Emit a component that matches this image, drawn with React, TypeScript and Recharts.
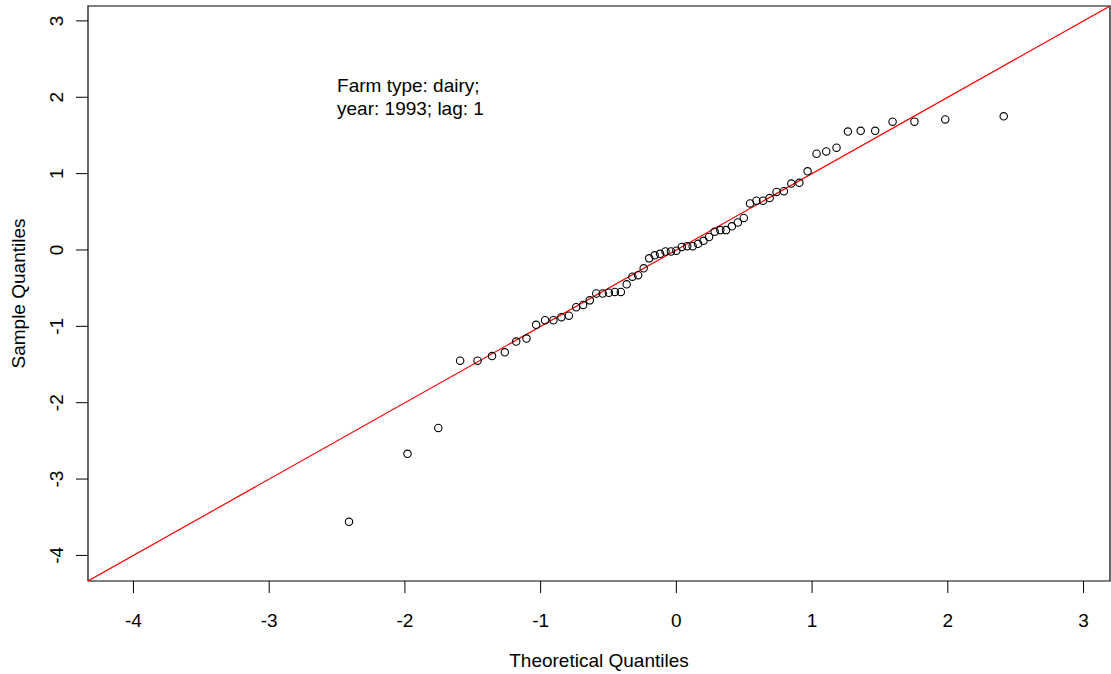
import {
  ScatterChart,
  Scatter,
  XAxis,
  YAxis,
  ReferenceLine,
  ReferenceArea,
  ReferenceDot,
} from "recharts";

// Normal scores for n = 63 (ppoints), ascending
const theoretical = [
  -2.412, -1.981, -1.754, -1.593, -1.465, -1.358, -1.264, -1.18, -1.104, -1.033,
  -0.967, -0.906, -0.847, -0.792, -0.738, -0.687, -0.638, -0.59, -0.543, -0.497,
  -0.453, -0.409, -0.366, -0.324, -0.282, -0.241, -0.2, -0.16, -0.12, -0.08,
  -0.04, 0, 0.04, 0.08, 0.12, 0.16, 0.2, 0.241, 0.282, 0.324,
  0.366, 0.409, 0.453, 0.497, 0.543, 0.59, 0.638, 0.687, 0.738, 0.792,
  0.847, 0.906, 0.967, 1.033, 1.104, 1.18, 1.264, 1.358, 1.465, 1.593,
  1.754, 1.981, 2.412,
];

// Sorted standardised residuals
const sample = [
  -3.56, -2.67, -2.33, -1.45, -1.45, -1.39, -1.34, -1.2, -1.16, -0.98,
  -0.92, -0.92, -0.88, -0.86, -0.75, -0.72, -0.66, -0.57, -0.57, -0.56,
  -0.55, -0.55, -0.45, -0.35, -0.33, -0.24, -0.11, -0.07, -0.05, -0.02,
  -0.02, -0.01, 0.04, 0.05, 0.05, 0.08, 0.12, 0.17, 0.24, 0.26,
  0.26, 0.31, 0.36, 0.42, 0.61, 0.645, 0.645, 0.68, 0.76, 0.77,
  0.87, 0.88, 1.03, 1.26, 1.29, 1.34, 1.55, 1.56, 1.56, 1.68,
  1.68, 1.71, 1.75,
];

const axisTicks = [-4, -3, -2, -1, 0, 1, 2, 3];
const axisRange: [number, number] = [-4.335, 3.195];

// qqline through the quartiles
const qqIntercept = 0;
const qqSlope = 1;

const annotationLines = ["Farm type: dairy;", "year: 1993; lag: 1"];

const data = theoretical.map((t, i) => ({ x: t, y: sample[i] }));

const FONT = "'Liberation Sans', Arial, Helvetica, sans-serif";
const FS = 19;

const XTick = (props: any) => {
  const { x, y, payload } = props;
  return (
    <text x={x} y={y + 25} textAnchor="middle" dominantBaseline="central" fontSize={FS} fontFamily={FONT} fill="#000">
      {String(payload.value)}
    </text>
  );
};

const YTick = (props: any) => {
  const { x, y, payload } = props;
  const cx = x - 17;
  return (
    <text
      x={cx}
      y={y}
      textAnchor="middle"
      dominantBaseline="central"
      fontSize={FS}
      fontFamily={FONT}
      fill="#000"
      transform={`rotate(-90, ${cx}, ${y})`}
    >
      {String(payload.value)}
    </text>
  );
};

const Ring = (props: any) => {
  const { cx, cy } = props;
  return <circle cx={cx} cy={cy} r={3.7} fill="none" stroke="#000" strokeWidth={1.1} />;
};

export default function App() {
  const [lo, hi] = axisRange;
  return (
    <div style={{ position: "absolute", left: 0, top: 0, background: "#fff" }}>
      <ScatterChart width={1111} height={674} margin={{ top: 6, right: 1, bottom: 0, left: 0 }}>
        <XAxis
          type="number"
          dataKey="x"
          domain={axisRange}
          allowDataOverflow
          ticks={axisTicks}
          interval={0}
          height={93}
          tickSize={12}
          tickMargin={2}
          tick={<XTick />}
          tickLine={{ stroke: "#000", strokeWidth: 1 }}
          axisLine={false}
          label={{
            content: (p: any) => {
              const vb = p.viewBox;
              return (
                <text x={vb.x + vb.width / 2} y={vb.y + 79} textAnchor="middle" dominantBaseline="central" fontSize={FS} fontFamily={FONT} fill="#000">
                  Theoretical Quantiles
                </text>
              );
            },
          }}
        />
        <YAxis
          type="number"
          dataKey="y"
          domain={axisRange}
          allowDataOverflow
          ticks={axisTicks}
          interval={0}
          width={88}
          tickSize={12}
          tickMargin={2}
          tick={<YTick />}
          tickLine={{ stroke: "#000", strokeWidth: 1 }}
          axisLine={false}
          label={{
            content: (p: any) => {
              const vb = p.viewBox;
              const cx = vb.x + 18;
              const cy = vb.y + vb.height / 2;
              return (
                <text
                  x={cx}
                  y={cy}
                  textAnchor="middle"
                  dominantBaseline="central"
                  fontSize={FS}
                  fontFamily={FONT}
                  fill="#000"
                  transform={`rotate(-90, ${cx}, ${cy})`}
                >
                  Sample Quantiles
                </text>
              );
            },
          }}
        />
        <ReferenceArea x1={lo} x2={hi} y1={lo} y2={hi} fill="none" stroke="#000" strokeWidth={1.2} ifOverflow="visible" />
        <ReferenceLine
          segment={[
            { x: lo, y: qqIntercept + qqSlope * lo },
            { x: hi, y: qqIntercept + qqSlope * hi },
          ]}
          stroke="#ff0000"
          strokeWidth={1.2}
          ifOverflow="hidden"
        />
        <ReferenceDot
          x={-2.5}
          y={2}
          r={0}
          fill="none"
          stroke="none"
          label={{
            content: (p: any) => {
              const vb = p.viewBox;
              const x0 = vb.x + (vb.width || 0) / 2;
              const y0 = vb.y + (vb.height || 0) / 2;
              return (
                <text x={x0} y={y0} fontSize={FS} fontFamily={FONT} fill="#000">
                  <tspan x={x0} y={y0 - 11.5} dominantBaseline="central">{annotationLines[0]}</tspan>
                  <tspan x={x0} y={y0 + 11.5} dominantBaseline="central">{annotationLines[1]}</tspan>
                </text>
              );
            },
          }}
        />
        <Scatter data={data} shape={<Ring />} isAnimationActive={false} />
      </ScatterChart>
    </div>
  );
}
